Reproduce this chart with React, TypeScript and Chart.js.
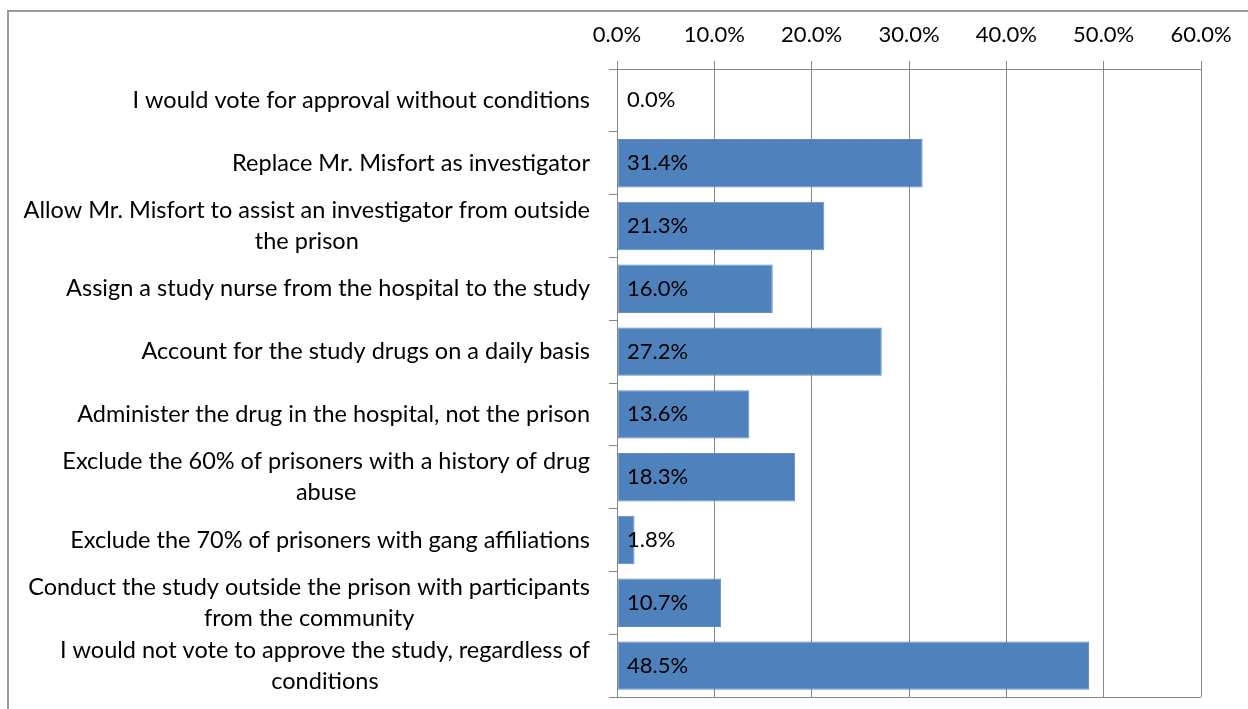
import { useEffect, useRef } from "react";
import { Chart, registerables } from "chart.js";

Chart.register(...registerables);

// Survey responses: conditions under which members would approve the study
const categories: string[][] = [
  ["I would vote for approval without conditions"],
  ["Replace Mr. Misfort as investigator"],
  ["Allow Mr. Misfort to assist an investigator from outside", "the prison"],
  ["Assign a study nurse from the hospital to the study"],
  ["Account for the study drugs on a daily basis"],
  ["Administer the drug in the hospital, not the prison"],
  ["Exclude the 60% of prisoners with a history of drug", "abuse"],
  ["Exclude the 70% of prisoners with gang affiliations"],
  ["Conduct the study outside the prison with participants", "from the community"],
  ["I would not vote to approve the study, regardless of", "conditions"],
];

const percentages: number[] = [0.0, 31.4, 21.3, 16.0, 27.2, 13.6, 18.3, 1.8, 10.7, 48.5];

const axisMin = 0;
const axisMax = 60;
const axisStep = 10;

const FONT_FAMILY = "Lato, 'Open Sans', sans-serif";
const FONT_SIZE = 22;
const CATEGORY_FONT_SIZE = 23.5;
const GRID_COLOR = "#878787";
const BAR_COLOR = "#4F81BD";
const TEXT_COLOR = "#000000";

const PLOT_LEFT = 617;
const PLOT_TOP = 69;
const LABEL_RIGHT = 590;
const LABEL_LINE_HEIGHT = 31;

// Category labels: each block is right-aligned, its lines centred within the block
const categoryLabelPlugin = {
  id: "categoryLabels",
  afterDraw(chart: any) {
    const { ctx } = chart;
    const yScale = chart.scales.y;
    ctx.save();
    ctx.font = `${CATEGORY_FONT_SIZE}px ${FONT_FAMILY}`;
    ctx.fillStyle = TEXT_COLOR;
    ctx.textAlign = "center";
    ctx.textBaseline = "middle";
    categories.forEach((lines, i) => {
      const y = yScale.getPixelForValue(i);
      const blockWidth = Math.max(...lines.map((l) => ctx.measureText(l).width));
      const cx = LABEL_RIGHT - blockWidth / 2;
      lines.forEach((line, j) => {
        const dy = (j - (lines.length - 1) / 2) * LABEL_LINE_HEIGHT;
        ctx.fillText(line, cx, y + dy);
      });
    });
    ctx.restore();
  },
};

// Value labels drawn just inside the base of each bar
const valueLabelPlugin = {
  id: "valueLabels",
  afterDatasetsDraw(chart: any) {
    const { ctx } = chart;
    const xScale = chart.scales.x;
    const meta = chart.getDatasetMeta(0);
    const base = xScale.getPixelForValue(0);
    ctx.save();
    ctx.font = `${FONT_SIZE}px ${FONT_FAMILY}`;
    ctx.fillStyle = TEXT_COLOR;
    ctx.textAlign = "left";
    ctx.textBaseline = "middle";
    meta.data.forEach((bar: any, i: number) => {
      ctx.fillText(`${percentages[i].toFixed(1)}%`, base + 10, bar.y);
    });
    ctx.restore();
  },
};

export default function App() {
  const canvasRef = useRef<HTMLCanvasElement | null>(null);

  useEffect(() => {
    if (!canvasRef.current) return;
    const chart = new Chart(canvasRef.current, {
      type: "bar",
      data: {
        labels: categories,
        datasets: [
          {
            data: percentages,
            backgroundColor: BAR_COLOR,
            borderColor: "#5f8dc5",
            borderWidth: 1,
            borderSkipped: false,
            barPercentage: 0.77,
            categoryPercentage: 1,
          },
        ],
      },
      options: {
        indexAxis: "y",
        animation: false,
        responsive: true,
        maintainAspectRatio: false,
        layout: { padding: { left: 0, top: 0, right: 47, bottom: 12 } },
        plugins: {
          legend: { display: false },
          tooltip: { enabled: false },
          title: { display: false },
        },
        scales: {
          x: {
            position: "top",
            min: axisMin,
            max: axisMax,
            ticks: {
              stepSize: axisStep,
              color: TEXT_COLOR,
              font: { family: FONT_FAMILY, size: FONT_SIZE },
              padding: 13,
              callback: (v: any) => `${Number(v).toFixed(1)}%`,
            },
            grid: {
              color: GRID_COLOR,
              tickColor: GRID_COLOR,
              tickLength: 8,
              lineWidth: 1,
            },
            border: { display: true, color: GRID_COLOR, width: 1 },
            afterFit: (scale: any) => {
              scale.height = PLOT_TOP;
            },
          },
          y: {
            ticks: { display: false },
            grid: {
              drawOnChartArea: true,
              drawTicks: true,
              tickLength: 8,
              tickColor: GRID_COLOR,
              // only the outer boundaries reach across the plot
              color: (ctx: any) =>
                ctx.index === 0 || ctx.index === undefined ? GRID_COLOR : "rgba(0,0,0,0)",
            },
            border: { display: true, color: GRID_COLOR, width: 1 },
            afterFit: (scale: any) => {
              scale.width = PLOT_LEFT;
            },
          },
        },
      },
      plugins: [categoryLabelPlugin, valueLabelPlugin],
    });
    return () => chart.destroy();
  }, []);

  return (
    <div
      style={{
        position: "fixed",
        left: 0,
        top: 0,
        width: 1248,
        height: 709,
        overflow: "hidden",
        background: "#ffffff",
      }}
    >
      <div
        style={{
          position: "absolute",
          left: 7,
          top: 10,
          width: 1400,
          height: 900,
          border: "2px solid #9a9a9a",
        }}
      />
      <div style={{ position: "absolute", left: 0, top: 0, width: 1248, height: 709 }}>
        <canvas ref={canvasRef} />
      </div>
    </div>
  );
}
